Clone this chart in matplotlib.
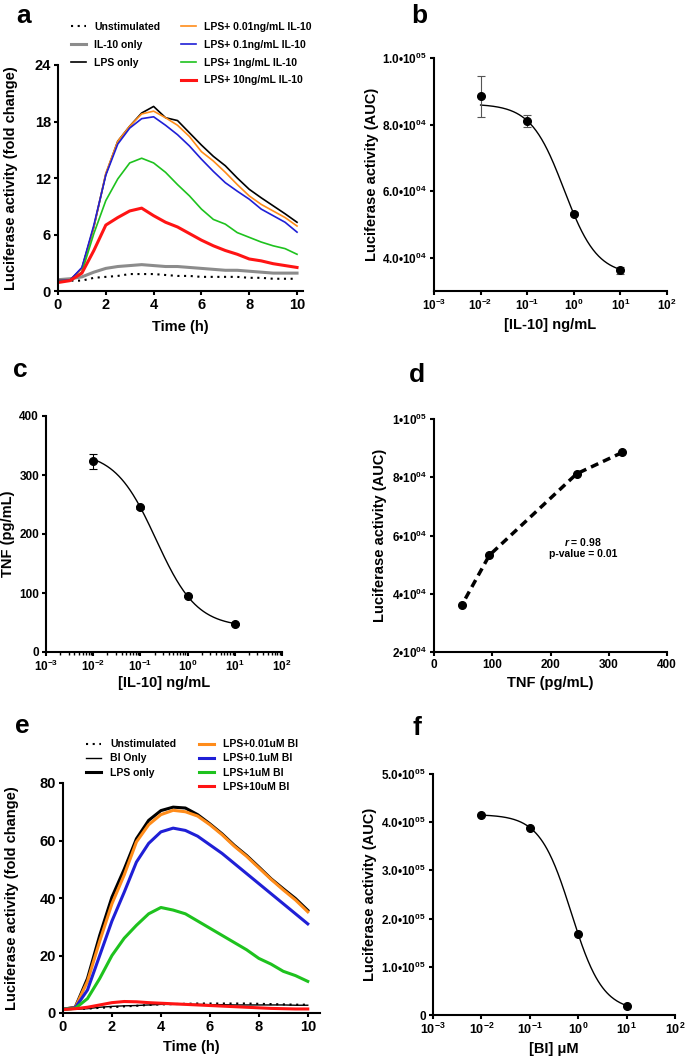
import matplotlib
matplotlib.use("Agg")
import matplotlib.pyplot as plt
from matplotlib.lines import Line2D
from matplotlib.ticker import LogLocator, NullLocator
import numpy as np

plt.rcParams['font.family'] = ['Liberation Sans', 'DejaVu Sans']
plt.rcParams['font.weight'] = 'bold'
plt.rcParams['axes.labelweight'] = 'bold'
plt.rcParams['mathtext.fontset'] = 'custom'
plt.rcParams['mathtext.rm'] = 'Liberation Sans:bold'
plt.rcParams['mathtext.it'] = 'Liberation Sans:bold:italic'
plt.rcParams['mathtext.bf'] = 'Liberation Sans:bold'

# ---- data -------------------------------------------------------------
hours = np.arange(0, 10.01, 0.5)

# panel a: IL-10 time course (fold change)
a_unstim = [1.1, 1.1, 1.1, 1.4, 1.5, 1.6, 1.8, 1.8, 1.8, 1.7, 1.6, 1.6, 1.5, 1.5, 1.5, 1.5, 1.4, 1.4, 1.3, 1.3, 1.3]
a_il10 = [1.2, 1.3, 1.5, 2.0, 2.4, 2.6, 2.7, 2.8, 2.7, 2.6, 2.6, 2.5, 2.4, 2.3, 2.2, 2.2, 2.1, 2.0, 1.9, 1.9, 1.9]
a_lps = [1.1, 1.15, 2.4, 6.8, 12.4, 15.9, 17.5, 18.9, 19.6, 18.4, 18.1, 16.8, 15.5, 14.3, 13.3, 12.0, 10.8, 9.9, 9.05, 8.2, 7.3]
a_001 = [1.1, 1.15, 2.4, 6.8, 12.5, 15.9, 17.5, 18.8, 19.1, 18.4, 17.6, 16.4, 14.8, 13.8, 12.6, 11.3, 10.1, 9.2, 8.5, 7.8, 6.9]
a_01 = [1.1, 1.15, 2.5, 7.0, 12.3, 15.6, 17.3, 18.3, 18.5, 17.6, 16.6, 15.4, 14.0, 12.7, 11.5, 10.6, 9.75, 8.7, 8.0, 7.3, 6.25]
a_1 = [1.0, 1.1, 2.0, 6.1, 9.6, 11.9, 13.6, 14.1, 13.6, 12.6, 11.3, 10.1, 8.7, 7.6, 7.1, 6.2, 5.7, 5.2, 4.8, 4.5, 3.9]
a_10 = [0.9, 1.1, 1.9, 4.3, 7.0, 7.8, 8.5, 8.8, 8.0, 7.3, 6.8, 6.1, 5.4, 4.8, 4.3, 3.9, 3.4, 3.2, 2.9, 2.7, 2.5]

# panel e: BI time course (fold change)
e_unstim = [1.3, 1.4, 1.5, 1.8, 2.0, 2.3, 2.5, 2.8, 3.0, 3.1, 3.2, 3.3, 3.3, 3.3, 3.3, 3.3, 3.2, 3.1, 3.0, 2.9, 2.9]
e_bi = [1.2, 1.3, 1.5, 2.0, 2.3, 2.5, 2.6, 2.8, 3.0, 3.0, 3.0, 3.0, 2.9, 2.9, 2.8, 2.8, 2.8, 2.8, 2.8, 2.7, 2.7]
e_lps = [1.3, 2.0, 12.0, 27.0, 40.3, 50.0, 60.6, 67.0, 70.4, 71.6, 71.3, 69.0, 65.8, 62.3, 58.3, 54.8, 50.8, 46.7, 43.2, 39.8, 35.7]
e_001 = [1.3, 1.9, 11.0, 25.0, 38.0, 48.0, 59.5, 65.5, 69.0, 70.5, 70.0, 68.5, 65.5, 62.0, 58.0, 54.5, 50.5, 46.5, 42.8, 39.3, 35.2]
e_01 = [1.3, 1.8, 8.0, 20.0, 32.0, 42.0, 52.5, 59.0, 63.0, 64.3, 63.5, 61.5, 58.5, 55.5, 52.0, 48.5, 45.0, 41.5, 38.0, 34.5, 31.0]
e_1 = [1.3, 1.6, 5.0, 12.0, 20.0, 26.0, 30.5, 34.5, 36.7, 35.8, 34.5, 32.0, 29.5, 27.0, 24.5, 22.0, 19.0, 17.0, 14.5, 13.0, 11.0]
e_10 = [1.2, 1.5, 2.0, 2.8, 3.6, 4.0, 3.9, 3.6, 3.4, 3.2, 3.0, 2.8, 2.6, 2.4, 2.2, 2.0, 1.8, 1.6, 1.5, 1.4, 1.4]

# dose responses
il10_conc = [0.01, 0.1, 1, 10]
auc_il10 = [88500, 81200, 53200, 36200]
auc_il10_err = [6200, 1800, 400, 1000]
tnf = [323, 245, 95, 48]
tnf_err = [13, 2, 2, 2]
bi_conc = [0.01, 0.1, 1, 10]
auc_bi = [414000, 389000, 167600, 19400]

# fitted 4-parameter logistic curves: top, bottom, logEC50, hill
fit_b = (86200, 34800, -0.21, 1.22)
fit_c = (340, 42, -0.67, 1.0)
fit_f = (416000, 8000, -0.143, 1.34)

log_ticks = [1e-3, 1e-2, 1e-1, 1e0, 1e1, 1e2]
log_labels = ['10$^{-3}$', '10$^{-2}$', '10$^{-1}$', '10$^{0}$', '10$^{1}$', '10$^{2}$']

# ---- layout -------------------------------------------------------------
W, H = 685, 1058
fig = plt.figure(figsize=(W / 100, H / 100), dpi=100)


def add_ax(box):
    l, t, r, b = box
    ax = fig.add_axes([l / W, 1 - b / H, (r - l) / W, (b - t) / H])
    ax.spines["top"].set_visible(False)
    ax.spines["right"].set_visible(False)
    for s in ("left", "bottom"):
        ax.spines[s].set_linewidth(1.5)
    ax.tick_params(width=1.5, length=3, pad=2)
    return ax


def place_labels(ax, box, xl_y, yl_x):
    # xl_y: pixel y of xlabel top, yl_x: pixel x of ylabel right edge
    l, t, r, b = box
    ax.xaxis.set_label_coords(0.5, (b - xl_y) / (b - t))
    ax.yaxis.set_label_coords((yl_x - l) / (r - l), 0.5)


def logistic(x, p):
    top, bottom, c, h = p
    return bottom + (top - bottom) / (1 + 10 ** ((np.log10(x) - c) * h))


def sci(v, dec):
    e = int(np.floor(np.log10(v)))
    m = v / 10 ** e
    return f"{m:.{dec}f}\u202210$^{{{e:02d}}}$"


box_a = (58, 65, 303, 291)
box_b = (434, 58, 667, 291)
box_c = (46, 416, 282, 652)
box_d = (434, 419, 667, 652)
box_e = (63, 783, 320, 1013)
box_f = (433, 774, 675, 1015)

# ---- panel a -------------------------------------------------------------
ax = add_ax(box_a)
ax.plot(hours, a_unstim, color='black', lw=1.5, dashes=(1, 2.2), label='Unstimulated')
ax.plot(hours, a_il10, color='#8c8c8c', lw=2.2, label='IL-10 only')
ax.plot(hours, a_lps, color='black', lw=1.2, label='LPS only')
ax.plot(hours, a_001, color='#ff8c1a', lw=1.2, label='LPS+ 0.01ng/mL IL-10')
ax.plot(hours, a_01, color='#1f1fd6', lw=1.2, label='LPS+ 0.1ng/mL IL-10')
ax.plot(hours, a_1, color='#1ec21e', lw=1.2, label='LPS+ 1ng/mL IL-10')
ax.plot(hours, a_10, color='#ff1414', lw=2.2, label='LPS+ 10ng/mL IL-10')
ax.set_xlim(0, 10.25)
ax.set_ylim(0, 24)
ax.set_xticks([0, 2, 4, 6, 8, 10])
ax.set_yticks([0, 6, 12, 18, 24])
ax.tick_params(labelsize=10.5)
ax.set_xlabel('Time (h)', fontsize=10.5)
ax.set_ylabel('Luciferase activity (fold change)', fontsize=10.5)
place_labels(ax, box_a, 320, 18)
h, l = ax.get_legend_handles_labels()
blank = Line2D([], [], color='none')
h = h[:3] + [blank] + h[3:]
l = l[:3] + [''] + l[3:]
ax.legend(h, l, ncol=2, loc='upper left', bbox_to_anchor=(0.055, 1.19), frameon=False,
          fontsize=7.5, handlelength=1.4, handletextpad=0.8, columnspacing=2.0,
          labelspacing=0.75, borderpad=0, borderaxespad=0)

# ---- panel b -------------------------------------------------------------
ax = add_ax(box_b)
xf = np.logspace(-2, 1, 200)
ax.plot(xf, logistic(xf, fit_b), color='black', lw=1)
ax.errorbar(il10_conc, auc_il10, yerr=auc_il10_err, fmt='o', color='black', ms=5.5,
            ecolor='#555555', elinewidth=0.8, capsize=3, capthick=0.8)
ax.set_xscale('log')
ax.set_xlim(1e-3, 1e2)
ax.set_ylim(3e4, 1e5)
ax.set_xticks(log_ticks)
ax.set_xticklabels(log_labels)
ax.xaxis.set_minor_locator(NullLocator())
yt = [4e4, 6e4, 8e4, 1e5]
ax.set_yticks(yt)
ax.set_yticklabels([sci(v, 1) for v in yt])
ax.tick_params(labelsize=8.5)
ax.set_xlabel('[IL-10] ng/mL', fontsize=10.5)
ax.set_ylabel('Luciferase activity (AUC)', fontsize=10.5)
place_labels(ax, box_b, 318, 379)

# ---- panel c -------------------------------------------------------------
ax = add_ax(box_c)
ax.plot(xf, logistic(xf, fit_c), color='black', lw=1)
ax.errorbar(il10_conc, tnf, yerr=tnf_err, fmt='o', color='black', ms=5.5,
            elinewidth=0.8, capsize=3, capthick=0.8)
ax.set_xscale('log')
ax.set_xlim(1e-3, 1e2)
ax.set_ylim(0, 400)
ax.set_xticks(log_ticks)
ax.set_xticklabels(log_labels)
ax.xaxis.set_minor_locator(LogLocator(base=10, subs=np.arange(2, 10)))
ax.tick_params(axis='x', which='minor', length=2, width=1)
ax.set_yticks([0, 100, 200, 300, 400])
ax.tick_params(axis='y', labelsize=8.5)
ax.tick_params(axis='x', labelsize=8.5)
ax.set_xlabel('[IL-10] ng/mL', fontsize=10.5)
ax.set_ylabel('TNF (pg/mL)', fontsize=10.5)
place_labels(ax, box_c, 676, 15)

# ---- panel d -------------------------------------------------------------
ax = add_ax(box_d)
ax.plot(tnf, auc_il10, color='black', lw=2.5, dashes=(2.3, 1.5), marker='o', ms=5.5)
ax.set_xlim(0, 400)
ax.set_ylim(2e4, 1e5)
ax.set_xticks([0, 100, 200, 300, 400])
yt = [2e4, 4e4, 6e4, 8e4, 1e5]
ax.set_yticks(yt)
ax.set_yticklabels([sci(v, 0) for v in yt])
ax.tick_params(labelsize=8.5)
ax.text(256, 57900, r'$\mathit{r}$ = 0.98', ha='center', va='center', fontsize=7.5)
ax.text(256, 53600, 'p-value = 0.01', ha='center', va='center', fontsize=7.5)
ax.set_xlabel('TNF (pg/mL)', fontsize=10.5)
ax.set_ylabel('Luciferase activity (AUC)', fontsize=10.5)
place_labels(ax, box_d, 676, 387)

# ---- panel e -------------------------------------------------------------
ax = add_ax(box_e)
ax.plot(hours, e_unstim, color='black', lw=1.5, dashes=(1, 2.2), label='Unstimulated')
ax.plot(hours, e_bi, color='black', lw=1.0, label='BI Only')
ax.plot(hours, e_lps, color='black', lw=2.2, label='LPS only')
ax.plot(hours, e_001, color='#ff8c1a', lw=2.2, label='LPS+0.01uM BI')
ax.plot(hours, e_01, color='#1f1fd6', lw=2.2, label='LPS+0.1uM BI')
ax.plot(hours, e_1, color='#1ec21e', lw=2.2, label='LPS+1uM BI')
ax.plot(hours, e_10, color='#ff1414', lw=2.2, label='LPS+10uM BI')
ax.set_xlim(0, 10.5)
ax.set_ylim(0, 80)
ax.set_xticks([0, 2, 4, 6, 8, 10])
ax.set_yticks([0, 20, 40, 60, 80])
ax.tick_params(labelsize=10.5)
ax.set_xlabel('Time (h)', fontsize=10.5)
ax.set_ylabel('Luciferase activity (fold change)', fontsize=10.5)
place_labels(ax, box_e, 1040, 19)
h, l = ax.get_legend_handles_labels()
h = h[:3] + [blank] + h[3:]
l = l[:3] + [''] + l[3:]
ax.legend(h, l, ncol=2, loc='upper left', bbox_to_anchor=(0.09, 1.19), frameon=False,
          fontsize=7.5, handlelength=1.4, handletextpad=0.9, columnspacing=2.2,
          labelspacing=0.4, borderpad=0, borderaxespad=0)

# ---- panel f -------------------------------------------------------------
ax = add_ax(box_f)
ax.plot(xf, logistic(xf, fit_f), color='black', lw=1)
ax.plot(bi_conc, auc_bi, 'o', color='black', ms=5.5)
ax.set_xscale('log')
ax.set_xlim(1e-3, 1e2)
ax.set_ylim(0, 5e5)
ax.set_xticks(log_ticks)
ax.set_xticklabels(log_labels)
ax.xaxis.set_minor_locator(NullLocator())
yt = [0, 1e5, 2e5, 3e5, 4e5, 5e5]
ax.set_yticks(yt)
ax.set_yticklabels(['0'] + [sci(v, 1) for v in yt[1:]])
ax.tick_params(axis='y', labelsize=8.5)
ax.tick_params(axis='x', labelsize=9)
ax.set_xlabel('[BI] \u03bcM', fontsize=10.5)
ax.set_ylabel('Luciferase activity (AUC)', fontsize=10.5)
place_labels(ax, box_f, 1042, 377)

# ---- panel letters --------------------------------------------------------
for letter, x, y in [('a', 16, 23), ('b', 411, 23), ('c', 13, 377),
                     ('d', 409, 382), ('e', 15, 733), ('f', 413, 735)]:
    fig.text(x / W, 1 - y / H, letter, fontsize=19, fontweight='bold', va='baseline', ha='left')

fig.savefig('out.png', dpi=100)
